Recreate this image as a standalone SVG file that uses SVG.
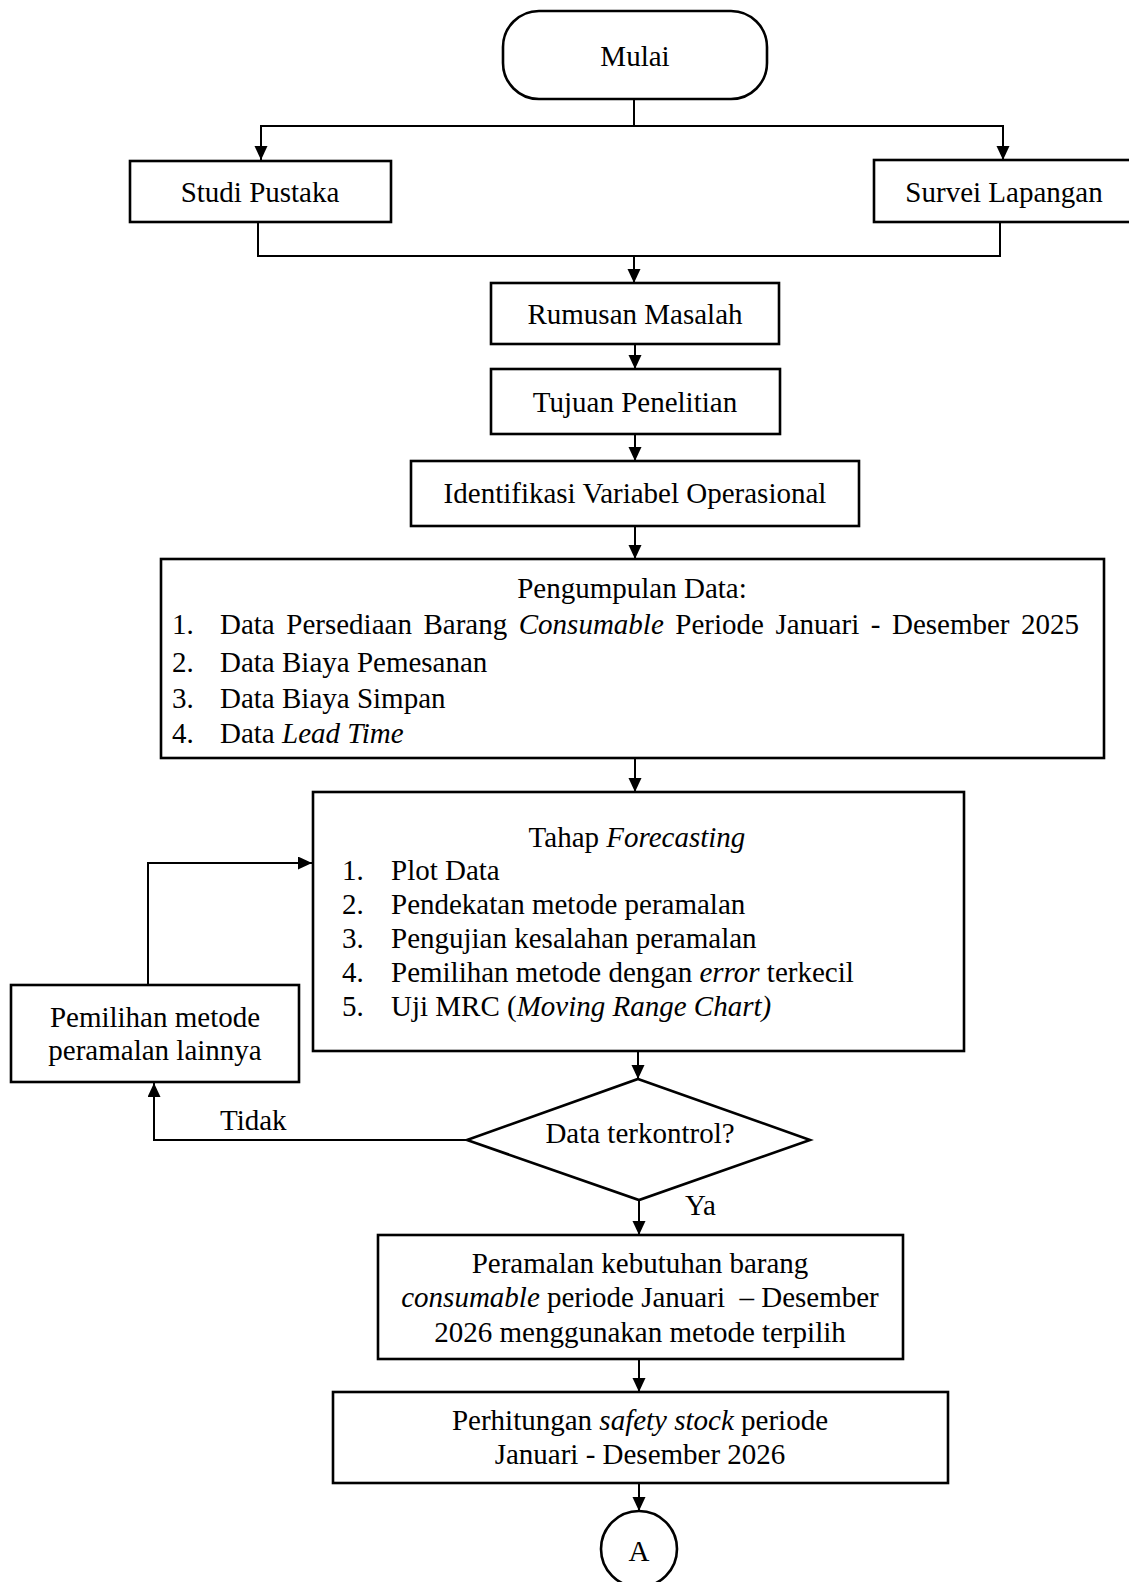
<svg xmlns="http://www.w3.org/2000/svg" width="1129" height="1582" viewBox="0 0 1129 1582">
<defs>
<style>
.box{fill:#fff;stroke:#000;stroke-width:2.6}
.con{fill:none;stroke:#000;stroke-width:2}
text{font-family:"Liberation Serif","Times New Roman",serif;font-size:29px;fill:#000}
.c{text-anchor:middle}
.i{font-style:italic}
</style>
<marker id="ah" markerUnits="userSpaceOnUse" markerWidth="15" markerHeight="14" refX="14" refY="6.5" orient="auto">
<path d="M0,0 L14,6.5 L0,13 z" fill="#000"/>
</marker>
</defs>
<rect width="1129" height="1582" fill="#fff"/>

<g id="connectors">
<path class="con" d="M634,99 V126 H261 V160" marker-end="url(#ah)"/>
<path class="con" d="M634,126 H1003 V160" marker-end="url(#ah)"/>
<path class="con" d="M258,222 V256 H1000 V222"/>
<path class="con" d="M634,256 V283" marker-end="url(#ah)"/>
<path class="con" d="M635,344 V369" marker-end="url(#ah)"/>
<path class="con" d="M635,434 V461" marker-end="url(#ah)"/>
<path class="con" d="M635,526 V559" marker-end="url(#ah)"/>
<path class="con" d="M635,758 V792" marker-end="url(#ah)"/>
<path class="con" d="M638,1051 V1079" marker-end="url(#ah)"/>
<path class="con" d="M467,1140 H154 V1083" marker-end="url(#ah)"/>
<path class="con" d="M148,985 V863 H312" marker-end="url(#ah)"/>
<path class="con" d="M639,1200 V1235" marker-end="url(#ah)"/>
<path class="con" d="M639,1359 V1392" marker-end="url(#ah)"/>
<path class="con" d="M639,1483 V1511" marker-end="url(#ah)"/>
<text x="220" y="1130">Tidak</text>
<text x="685" y="1215">Ya</text>
</g>

<g id="mulai">
<rect class="box" x="503" y="11" width="264" height="88" rx="36" ry="36"/>
<text class="c" x="635" y="66">Mulai</text>
</g>

<g id="studi-pustaka">
<rect class="box" x="130" y="161" width="261" height="61"/>
<text class="c" x="260" y="202">Studi Pustaka</text>
</g>

<g id="survei-lapangan">
<rect class="box" x="874" y="160" width="262" height="62"/>
<text class="c" x="1004" y="202">Survei Lapangan</text>
</g>

<g id="rumusan-masalah">
<rect class="box" x="491" y="283" width="288" height="61"/>
<text class="c" x="635" y="324">Rumusan Masalah</text>
</g>

<g id="tujuan-penelitian">
<rect class="box" x="491" y="369" width="289" height="65"/>
<text class="c" x="635" y="412">Tujuan Penelitian</text>
</g>

<g id="identifikasi">
<rect class="box" x="411" y="461" width="448" height="65"/>
<text class="c" x="635" y="503">Identifikasi Variabel Operasional</text>
</g>

<g id="pengumpulan-data">
<rect class="box" x="161" y="559" width="943" height="199"/>
<text class="c" x="632" y="598">Pengumpulan Data:</text>
<text x="172" y="634">1.</text>
<text x="220" y="634" word-spacing="4.3">Data Persediaan Barang <tspan class="i">Consumable</tspan> Periode Januari - Desember 2025</text>
<text x="172" y="672">2.</text>
<text x="220" y="672">Data Biaya Pemesanan</text>
<text x="172" y="708">3.</text>
<text x="220" y="708">Data Biaya Simpan</text>
<text x="172" y="743">4.</text>
<text x="220" y="743">Data <tspan class="i">Lead Time</tspan></text>
</g>

<g id="tahap-forecasting">
<rect class="box" x="313" y="792" width="651" height="259"/>
<text class="c" x="637" y="847">Tahap <tspan class="i">Forecasting</tspan></text>
<text x="342" y="880">1.</text>
<text x="391" y="880">Plot Data</text>
<text x="342" y="914">2.</text>
<text x="391" y="914">Pendekatan metode peramalan</text>
<text x="342" y="948">3.</text>
<text x="391" y="948">Pengujian kesalahan peramalan</text>
<text x="342" y="982">4.</text>
<text x="391" y="982">Pemilihan metode dengan <tspan class="i">error</tspan> terkecil</text>
<text x="342" y="1016">5.</text>
<text x="391" y="1016">Uji MRC (<tspan class="i">Moving Range Chart)</tspan></text>
</g>

<g id="pemilihan-metode-lain">
<rect class="box" x="11" y="985" width="288" height="97"/>
<text class="c" x="155" y="1027">Pemilihan metode</text>
<text class="c" x="155" y="1060">peramalan lainnya</text>
</g>

<g id="data-terkontrol">
<polygon class="box" points="638,1079 810,1140 639,1200 467,1140"/>
<text class="c" x="640" y="1143">Data terkontrol?</text>
</g>

<g id="peramalan">
<rect class="box" x="378" y="1235" width="525" height="124"/>
<text class="c" x="640" y="1273">Peramalan kebutuhan barang</text>
<text class="c" x="640" y="1307" xml:space="preserve"><tspan class="i">consumable</tspan> periode Januari  – Desember</text>
<text class="c" x="640" y="1342">2026 menggunakan metode terpilih</text>
</g>

<g id="perhitungan">
<rect class="box" x="333" y="1392" width="615" height="91"/>
<text class="c" x="640" y="1430">Perhitungan <tspan class="i">safety stock</tspan> periode</text>
<text class="c" x="640" y="1464">Januari - Desember 2026</text>
</g>

<g id="konektor-a">
<circle class="box" cx="639" cy="1549" r="38"/>
<text class="c" x="639" y="1561">A</text>
</g>
</svg>
